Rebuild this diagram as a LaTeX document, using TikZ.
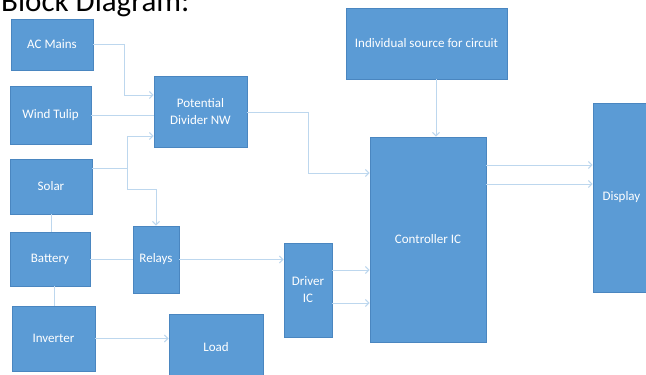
\documentclass[tikz,border=0pt]{standalone}
\usepackage{fontspec}
\setmainfont{Carlito}
\usetikzlibrary{arrows.meta}
\definecolor{boxfill}{HTML}{5B9BD5}
\definecolor{boxline}{HTML}{4A86C0}
\definecolor{connc}{HTML}{BDD7EE}
\begin{document}
\begin{tikzpicture}[x=1pt,y=-1pt,
  blk/.style={draw=boxline,fill=boxfill,line width=0.8pt,inner sep=0pt,text=white,
    font=\fontsize{13}{17}\selectfont,align=center},
  conn/.style={draw=connc,line width=1pt},
  arr/.style={conn,-{Straight Barb[length=3.5pt,width=7pt]}}]
\useasboundingbox (0,0) rectangle (646,375);
\fill[white] (0,0) rectangle (646,375);
\node[anchor=base west,inner sep=0pt,font=\fontsize{31}{31}\selectfont] (title) at (1,11) {Block Diagram:};
\node[blk,minimum width=82pt,minimum height=51pt] (acm) at (52,44.5) {AC Mains};
\node[blk,minimum width=81pt,minimum height=58pt] (wind) at (50.5,115) {Wind Tulip};
\node[blk,minimum width=93pt,minimum height=71pt] (pd) at (200.5,111.5) {Potential\\Divider NW};
\node[blk,minimum width=82pt,minimum height=55pt] (solar) at (51,186.5) {Solar};
\node[blk,minimum width=80pt,minimum height=54pt] (batt) at (50,259) {Battery};
\node[blk,minimum width=83pt,minimum height=65pt] (inv) at (53.5,338.5) {Inverter};
\node[blk,minimum width=46pt,minimum height=67pt] (relays) at (156,259.5) {Relays};
\node[blk,minimum width=94pt,minimum height=66pt] (load) at (216,347) {Load};
\node[blk,minimum width=48pt,minimum height=94pt] (driver) at (308,290) {Driver\\IC};
\node[blk,minimum width=116pt,minimum height=205pt] (ctrl) at (428,239.5) {Controller IC};
\node[blk,minimum width=161pt,minimum height=71pt] (ind) at (426.5,43.5) {Individual source for circuit};
\node[blk,minimum width=57pt,minimum height=189pt] (disp) at (621.5,197.5) {Display};
% connectors
\draw[arr] (acm.east) -- (124,44.5) -- (124,95) -- (pd.west |- 124,95);
\draw[conn] (wind.east) -- (pd.west |- wind.east);
\coordinate (sj) at (127,168);
\draw[conn] (solar.east |- sj) -- (sj);
\draw[arr] (sj) -- (127,136) -- (pd.west |- 127,136);
\draw[arr] (sj) -- (127,189) -- (156,189) -- (relays.north);
\draw[arr] (pd.east |- 0,112) -- (308,112) -- (308,173) -- (ctrl.west |- 0,173);
\draw[arr] (ind.south -| 436,0) -- (ctrl.north -| 436,0);
\draw[arr] (ctrl.east |- 0,165) -- (disp.west |- 0,165);
\draw[arr] (ctrl.east |- 0,184) -- (disp.west |- 0,184);
\draw[conn] (solar.south) -- (batt.north -| solar.south);
\draw[conn] (batt.south -| 54,0) -- (inv.north -| 54,0);
\draw[conn] (batt.east) -- (relays.west |- batt.east);
\draw[arr] (relays.east) -- (driver.west |- relays.east);
\draw[arr] (inv.east) -- (load.west |- inv.east);
\draw[arr] (driver.east |- 0,270) -- (ctrl.west |- 0,270);
\draw[arr] (driver.east |- 0,303) -- (ctrl.west |- 0,303);
\end{tikzpicture}
\end{document}
